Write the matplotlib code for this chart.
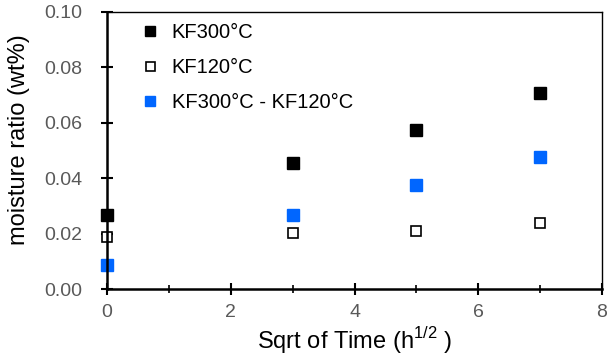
import matplotlib
matplotlib.use("Agg")
import matplotlib.pyplot as plt
from matplotlib.ticker import MultipleLocator

plt.rcParams['font.family'] = ['Liberation Sans', 'DejaVu Sans']
plt.rcParams['mathtext.fontset'] = 'custom'
plt.rcParams['mathtext.rm'] = 'Liberation Sans'

x = [0, 3, 5, 7]
kf300 = [0.0267, 0.0455, 0.0574, 0.0708]
kf120 = [0.0188, 0.0202, 0.0209, 0.0238]
diff = [0.0087, 0.0267, 0.0375, 0.0477]
labels = ['KF300°C', 'KF120°C', 'KF300°C - KF120°C']

fig = plt.figure(figsize=(6.07, 3.58), dpi=100)
ax = fig.add_axes([107/607, 1-289/358, 495/607, 277/358])

ms = 8
ax.plot(x, kf300, 's', color='black', ms=ms, mec='black', clip_on=False, label=labels[0])
ax.plot(x, kf120, 's', mfc='white', mec='black', ms=ms*0.9, mew=1.2, clip_on=False, label=labels[1])
ax.plot(x, diff, 's', color='#0066ff', ms=ms, clip_on=False, label=labels[2])

ax.set_xlim(0, 8)
ax.set_ylim(0, 0.10)
ax.xaxis.set_major_locator(MultipleLocator(2))
ax.xaxis.set_minor_locator(MultipleLocator(1))
ax.yaxis.set_major_locator(MultipleLocator(0.02))
ax.yaxis.set_major_formatter(matplotlib.ticker.FormatStrFormatter('%.2f'))
ax.tick_params(axis='both', which='both', direction='inout', labelsize=14,
               labelcolor='#595959')
ax.tick_params(axis='both', which='major', length=8, width=1.5, color='black')
ax.tick_params(axis='x', which='minor', length=6, width=1.2, color='black')
ax.tick_params(axis='x', pad=7)
ax.tick_params(axis='y', pad=14)
for s in ['left', 'bottom']:
    ax.spines[s].set_linewidth(1.8)
for s in ['top', 'right']:
    ax.spines[s].set_linewidth(1.0)

ax.set_xlabel('Sqrt of Time (h$^{\\mathrm{1/2}}$ )', fontsize=17, labelpad=3)
ax.set_ylabel('moisture ratio (wt%)', fontsize=17, labelpad=12)
ax.yaxis.set_label_coords(-0.155, 0.54)

leg = ax.legend(loc='upper left', bbox_to_anchor=(0.025, 1.025), frameon=False, fontsize=14.5,
                handletextpad=0.5, labelspacing=0.8, markerscale=0.9, handlelength=1.2)

fig.savefig('out.png', dpi=100)
